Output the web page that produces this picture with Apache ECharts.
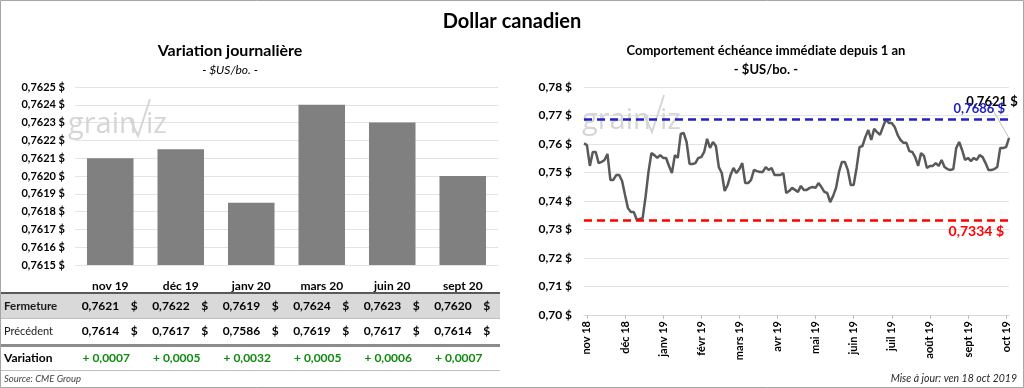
<!DOCTYPE html>
<html><head><meta charset="utf-8">
<script src="https://cdn.jsdelivr.net/npm/echarts@6/dist/echarts.min.js"></script>
<style>html,body{margin:0;padding:0;background:#fff}#c{width:1024px;height:388px}</style>
</head><body><div id="c"></div>
<script>
// ---------- data ----------
const barCategories = ['nov 19','déc 19','janv 20','mars 20','juin 20','sept 20'];
const barValues = [0.7621, 0.76215, 0.76185, 0.7624, 0.7623, 0.7620];
const closeValues = [0.7621, 0.7622, 0.7619, 0.7624, 0.7623, 0.7620];
const prevValues = [0.7614, 0.7617, 0.7586, 0.7619, 0.7617, 0.7614];
const variationValues = [0.0007, 0.0005, 0.0032, 0.0005, 0.0006, 0.0007];
const leftAxisMin = 0.7615, leftAxisMax = 0.7625, leftAxisStep = 0.0001;
const rightAxisMin = 0.70, rightAxisMax = 0.78, rightAxisStep = 0.01;
const monthLabels = ['nov 18','déc 18','janv 19','févr 19','mars 19','avr 19','mai 19','juin 19','juil 19','août 19','sept 19','oct 19'];
const dailyValues = [
 0.7602,0.7596,0.7523,0.7572,0.7572,0.7533,0.7537,0.7544,0.7565,0.7474,
 0.7474,0.7491,0.7491,0.7470,0.7421,0.7375,0.7361,0.7361,0.7334,0.7337,
 0.7340,0.7414,0.7502,0.7568,0.7561,0.7551,0.7561,0.7551,0.7551,0.7523,
 0.7498,0.7561,0.7551,0.7635,0.7639,0.7607,0.7530,0.7530,0.7533,0.7551,
 0.7554,0.7572,0.7618,0.7586,0.7607,0.7593,0.7519,0.7498,0.7435,0.7456,
 0.7491,0.7516,0.7498,0.7512,0.7533,0.7463,0.7463,0.7474,0.7509,0.7505,
 0.7502,0.7502,0.7519,0.7509,0.7516,0.7491,0.7491,0.7491,0.7498,0.7428,
 0.7435,0.7446,0.7439,0.7432,0.7453,0.7439,0.7439,0.7446,0.7449,0.7446,
 0.7463,0.7449,0.7432,0.7428,0.7396,0.7418,0.7446,0.7502,0.7537,0.7537,
 0.7509,0.7456,0.7456,0.7516,0.7589,0.7593,0.7625,0.7649,0.7614,0.7653,
 0.7642,0.7632,0.7660,0.7686,0.7674,0.7674,0.7660,0.7632,0.7614,0.7604,
 0.7604,0.7575,0.7572,0.7554,0.7523,0.7568,0.7558,0.7516,0.7523,0.7523,
 0.7533,0.7523,0.7544,0.7519,0.7512,0.7509,0.7512,0.7586,0.7607,0.7579,
 0.7544,0.7551,0.7540,0.7551,0.7544,0.7561,0.7554,0.7533,0.7509,0.7509,
 0.7512,0.7519,0.7586,0.7586,0.7589,0.7621];
const monthLabelFirstIndex = 1, monthLabelEvery = 13;

// ---------- helpers ----------
const F = 'Lato, "Open Sans", "DejaVu Sans", sans-serif';
const fmt = (v, d) => v.toFixed(d).replace('.', ',');
const highValue = Math.max(...dailyValues);
const lowValue = Math.min(...dailyValues);
const lastIdx = dailyValues.length - 1;
const dayCats = dailyValues.map((v, i) => String(i));
const isMonthIdx = i => i >= monthLabelFirstIndex && (i - monthLabelFirstIndex) % monthLabelEvery === 0;
const monthAt = i => isMonthIdx(i) ? (monthLabels[(i - monthLabelFirstIndex) / monthLabelEvery] || '') : '';

const chart = echarts.init(document.getElementById('c'));

const option = {
  animation: false,
  textStyle: { fontFamily: F },
  grid: [
    { left: 75, top: 87, width: 423, height: 178 },
    { left: 584, top: 87, width: 425, height: 228 }
  ],
  xAxis: [
    { type: 'category', gridIndex: 0, data: barCategories,
      axisLine: { show: false }, axisTick: { show: false },
      axisLabel: { fontFamily: F, fontWeight: 'bold', fontSize: 12, color: '#000', margin: 15 } },
    { type: 'category', gridIndex: 1, data: dayCats, boundaryGap: false,
      axisLine: { lineStyle: { color: '#d9d9d9', width: 1 } },
      axisTick: { show: true, alignWithLabel: true, length: 4, interval: (i) => isMonthIdx(i), lineStyle: { color: '#bfbfbf' } },
      axisLabel: { rotate: 90, interval: (i) => isMonthIdx(i), formatter: (v, i) => monthAt(i),
        fontFamily: F, fontWeight: 'bold', fontSize: 11, color: '#000', margin: 6 } }
  ],
  yAxis: [
    { type: 'value', gridIndex: 0, min: leftAxisMin, max: leftAxisMax, interval: leftAxisStep,
      axisLine: { show: false }, axisTick: { show: false },
      splitLine: { lineStyle: { color: '#e3e3e3' } },
      axisLabel: { formatter: v => fmt(v, 4) + ' $', fontFamily: F, fontWeight: 'bold', fontSize: 11, color: '#000', margin: 10 } },
    { type: 'value', gridIndex: 1, min: rightAxisMin, max: rightAxisMax, interval: rightAxisStep,
      axisLine: { show: false }, axisTick: { show: false },
      splitLine: { lineStyle: { color: '#e3e3e3' } },
      axisLabel: { formatter: v => fmt(v, 2) + ' $', fontFamily: F, fontWeight: 'bold', fontSize: 12, color: '#000', margin: 12 } }
  ],
  series: [
    { type: 'bar', xAxisIndex: 0, yAxisIndex: 0, data: barValues, barWidth: '66%',
      itemStyle: { color: '#808080' } },
    { type: 'line', xAxisIndex: 1, yAxisIndex: 1,
      data: dailyValues.map((v, i) => i === lastIdx
        ? { value: v, symbol: 'circle', symbolSize: 1, label: { show: true } }
        : v),
      symbol: 'none', showSymbol: true, showAllSymbol: true,
      lineStyle: { color: '#595959', width: 2.5 },
      itemStyle: { color: '#595959' },
      label: { show: false, position: 'top', formatter: p => fmt(p.value, 4) + ' $',
        fontFamily: F, fontWeight: 'bold', fontSize: 13, color: '#000' },
      labelLayout: p => ({ dx: -17, dy: -24 }),
      labelLine: { show: true, lineStyle: { color: '#bfbfbf', width: 1 } },
      markLine: {
        symbol: 'none', silent: true, precision: 4,
        data: [
          { yAxis: highValue, lineStyle: { color: '#2121c4', type: [8, 5], width: 2.5 },
            label: { position: 'insideEndTop', formatter: p => fmt(p.value, 4) + ' $',
              fontFamily: F, fontWeight: 'bold', fontSize: 13, color: '#2121c4', distance: 4 } },
          { yAxis: lowValue, lineStyle: { color: '#ff0000', type: [8, 5], width: 2.5 },
            label: { position: 'insideEndBottom', formatter: p => fmt(p.value, 4) + ' $',
              fontFamily: F, fontWeight: 'bold', fontSize: 14, color: '#ff0000', distance: 5 } }
        ]
      }
    }
  ]
};
chart.setOption(option);

// ---------- titles, table, watermark ----------
const g = [];
const txt = (x, y, text, style) => g.push({ type: 'text', x, y, silent: true,
  style: Object.assign({ text, fontFamily: F, fill: '#000', textAlign: 'left', textVerticalAlign: 'middle' }, style) });
const rect = (x, y, w, h, fill) => g.push({ type: 'rect', silent: true, shape: { x, y, width: w, height: h }, style: { fill } });

// border
g.push({ type: 'rect', silent: true, shape: { x: 0.5, y: 0.5, width: 1023, height: 387 }, style: { fill: 'none', stroke: '#a6a6a6', lineWidth: 1 } });

// table bands
rect(1, 294, 499, 24, '#d9d9d9');
rect(1, 292, 499, 2, '#595959');
rect(1, 318, 499, 1, '#bfbfbf');
rect(1, 344, 499, 3, '#8c8c8c');
rect(1, 370, 499, 1, '#bfbfbf');

// watermarks
function watermark(x0, y0) {
  g.push({ type: 'text', x: x0, y: y0, silent: true, z: 0,
    style: { text: 'grain', fontFamily: '"Open Sans", Lato, sans-serif', fontSize: 29, fill: '#d6d6d6', textVerticalAlign: 'bottom' } });
  g.push({ type: 'polyline', silent: true, z: 0,
    shape: { points: [[x0 + 62, y0 - 20], [x0 + 70, y0 - 3], [x0 + 82, y0 - 40]] },
    style: { stroke: '#d6d6d6', lineWidth: 2, fill: 'none' } });
  g.push({ type: 'text', x: x0 + 78, y: y0, silent: true, z: 0,
    style: { text: 'iz', fontFamily: '"Open Sans", Lato, sans-serif', fontSize: 29, fill: '#d6d6d6', textVerticalAlign: 'bottom' } });
}
watermark(68, 139);
watermark(582, 135);

// titles
txt(512, 22, 'Dollar canadien', { fontSize: 20, fontWeight: 'bold', textAlign: 'center' });
txt(230, 51, 'Variation journalière', { fontSize: 16, fontWeight: 'bold', textAlign: 'center' });
txt(230, 70, '- $US/bo. -', { fontSize: 12, fontStyle: 'italic', textAlign: 'center' });
txt(766, 51, 'Comportement échéance immédiate depuis 1 an', { fontSize: 13, fontWeight: 'bold', textAlign: 'center' });
txt(766, 70, '- $US/bo. -', { fontSize: 13, fontWeight: 'bold', textAlign: 'center' });

// table rows
txt(4, 306, 'Fermeture', { fontSize: 11.5, fontWeight: 'bold', fill: '#1a1a1a' });
txt(4, 331, 'Précédent', { fontSize: 11, fill: '#1a1a1a' });
txt(4, 358, 'Variation', { fontSize: 12, fontWeight: 'bold' });
barCategories.forEach((c, i) => {
  const cx = chart.convertToPixel({ xAxisIndex: 0 }, c);
  txt(cx + 9, 306, fmt(closeValues[i], 4), { fontSize: 12, fontWeight: 'bold', textAlign: 'right' });
  txt(cx + 24, 306, '$', { fontSize: 12, fontWeight: 'bold', textAlign: 'center' });
  txt(cx + 9, 331, fmt(prevValues[i], 4), { fontSize: 12, fontWeight: 'bold', textAlign: 'right' });
  txt(cx + 24, 331, '$', { fontSize: 12, fontWeight: 'bold', textAlign: 'center' });
  txt(cx - 4, 358, '+ ' + fmt(variationValues[i], 4), { fontSize: 12, fontWeight: 'bold', textAlign: 'center', fill: '#108a10' });
});

txt(4, 379, 'Source: CME Group', { fontSize: 9.5, fontStyle: 'italic', fill: '#404040' });
txt(1017, 379, 'Mise à jour: ven 18 oct 2019', { fontSize: 10.5, fontStyle: 'italic', textAlign: 'right', fill: '#262626' });

chart.setOption({ graphic: g });
</script>
</body></html>
